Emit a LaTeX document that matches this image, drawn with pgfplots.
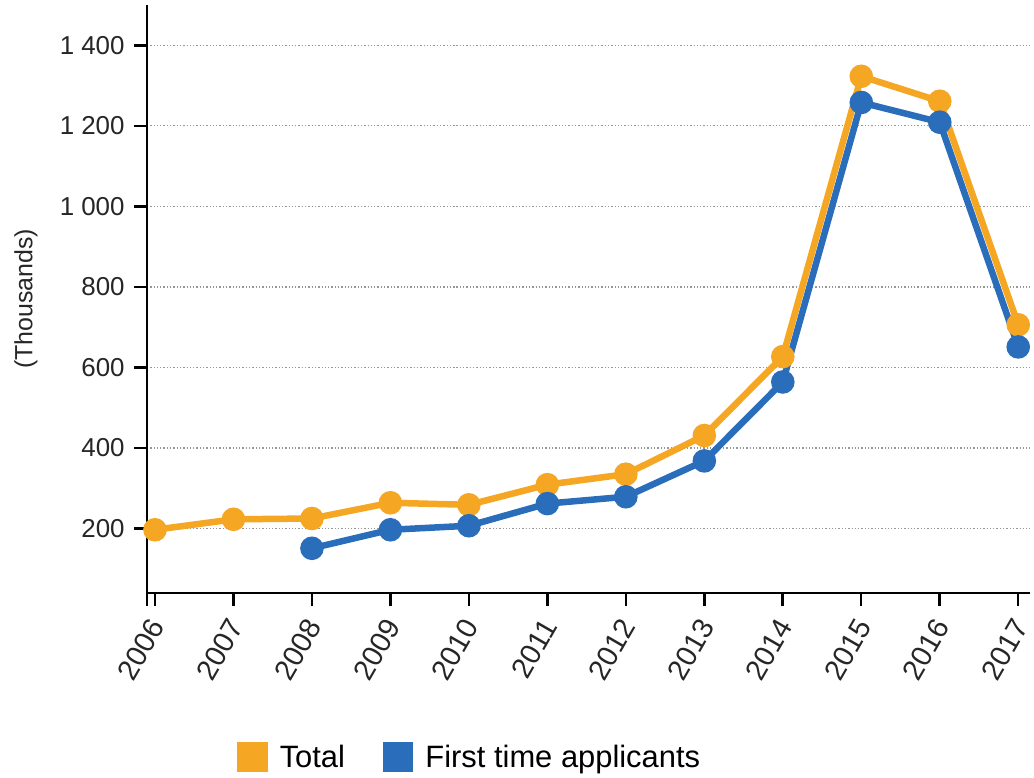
\documentclass[border=0pt]{standalone}
\usepackage{pgfplots}
\pgfplotsset{compat=1.18}
\usepackage{fontspec}
\setmainfont{Liberation Sans}
\definecolor{cTotal}{RGB}{245,166,35}
\definecolor{cFirst}{RGB}{42,110,187}
\definecolor{cGrid}{RGB}{150,150,150}
\begin{document}
\begin{tikzpicture}
\begin{axis}[
  name=ax,
  scale only axis,
  width=883bp, height=588bp,
  xmin=2005.898, xmax=2017.15,
  ymin=40, ymax=1500,
  axis lines=left,
  axis line style={line width=2.5bp, -},
  xtick={2006,...,2017},
  ytick={200,400,...,1400},
  tick align=outside,
  major tick length=13bp,
  tick style={line width=2.5bp, black},
  xticklabel shift=15bp,
  x tick label style={xshift=3bp, rotate=60, anchor=east, font=\fontsize{29}{34}\selectfont, text=black!85, inner sep=1bp},
  yticklabel shift=6bp,
  y tick label style={font=\fontsize{26}{30}\selectfont, text=black!85},
  xticklabel={\pgfmathprintnumber[1000 sep={}]{\tick}},
  /pgf/number format/1000 sep={\ },
  /pgf/number format/assume math mode=true,
  ymajorgrids,
  y grid style={cGrid, line width=1.3bp, dotted},
  ylabel={(Thousands)},
  ylabel style={font=\fontsize{25}{30}\selectfont, text=black!85, at={(rel axis cs:0,0.5)}, anchor=south, yshift=106bp},
  legend columns=2,
  legend style={draw=none, at={(rel axis cs:0.102,-0.279)}, anchor=west, font=\fontsize{31}{36}\selectfont, /tikz/every even column/.append style={column sep=36bp}, inner sep=0pt},
  legend image code/.code={\fill (0bp,-12bp) rectangle (24bp,12bp);},
  clip=false,
]
\addplot[color=cTotal, line width=6.5bp, mark=*, mark size=8.5bp, mark options={solid}] coordinates {
 (2006,197) (2007,223) (2008,225) (2009,264) (2010,259) (2011,309)
 (2012,335) (2013,431) (2014,627) (2015,1323) (2016,1261) (2017,706)};
\addlegendentry{\hspace{10bp}Total}
\addplot[color=cFirst, line width=6.5bp, mark=*, mark size=8.5bp, mark options={solid}] coordinates {
 (2008,151) (2009,197) (2010,207) (2011,262) (2012,279) (2013,368)
 (2014,564) (2015,1258) (2016,1209) (2017,651)};
\addlegendentry{\hspace{10bp}First time applicants}
\end{axis}
\draw[line width=2.5bp] (ax.south west) -- ++(0,-13bp);
\pgfresetboundingbox
\path ([shift={(-147bp,-185bp)}]ax.south west) rectangle ([shift={(4bp,5bp)}]ax.north east);
\end{tikzpicture}
\end{document}
